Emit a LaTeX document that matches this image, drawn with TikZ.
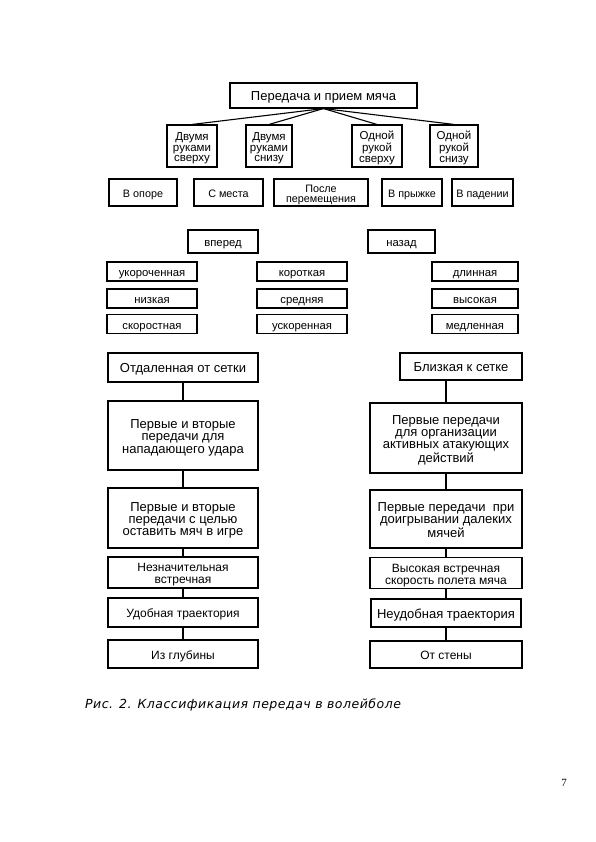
\documentclass[tikz,border=0pt]{standalone}
\usepackage{fontspec}
\setmainfont{Liberation Sans}
\newfontfamily\capfont[LetterSpace=4]{DejaVu Sans}
\newfontfamily\numfont{Liberation Serif}
\newcommand\firstup{\rule{0pt}{\dimexpr0.7\baselineskip+6pt\relax}}
\begin{document}
\begin{tikzpicture}[x=1pt,y=-1pt,
  base/.style={draw=black,line width=1.1pt,inner sep=0.5pt,align=center,
    execute at begin node={\firstup}, execute at end node=\strut},
  hand/.style={base,font=\fontsize{11.5}{10.6}\selectfont},
  place/.style={base,font=\fontsize{10.8}{10}\selectfont},
  small/.style={base,font=\fontsize{11.3}{12}\selectfont},
  box/.style={base,font=\fontsize{12}{12}\selectfont},
  big/.style={base,font=\fontsize{13}{12.2}\selectfont},
  conn/.style={draw=black,line width=1.1pt}]
\useasboundingbox (0,0) rectangle (595,842);
\fill[white] (0,0) rectangle (595,842);
% top
\node[big,minimum width=187pt,minimum height=25pt] (top) at (323.5,95.5) {Передача и прием мяча};
\node[hand,minimum width=50pt,minimum height=42pt] (a1) at (192,146) {\firstup Двумя\\руками\\сверху};
\node[hand,minimum width=46pt,minimum height=42pt] (a2) at (269,146) {\firstup Двумя\\руками\\снизу};
\node[hand,minimum width=50pt,minimum height=42pt] (a3) at (377,146) {\firstup Одной\\рукой\\сверху};
\node[hand,minimum width=48pt,minimum height=42pt] (a4) at (454,146) {\firstup Одной\\рукой\\снизу};
\foreach \n in {a1,a2,a3,a4} \draw[conn] (top.south) -- (\n.north);
% row 3
\node[place,minimum width=68pt,minimum height=27pt] (c1) at (143,192.5) {В опоре};
\node[place,minimum width=69pt,minimum height=27pt] (c2) at (228.5,192.5) {С места};
\node[place,minimum width=94pt,minimum height=27pt] (c3) at (321,192.5) {\firstup После\\перемещения};
\node[place,minimum width=60pt,minimum height=27pt] (c4) at (412,192.5) {В прыжке};
\node[place,minimum width=61pt,minimum height=27pt] (c5) at (482.5,192.5) {В падении};
% row 4
\node[small,minimum width=70pt,minimum height=23pt] (d1) at (223,241.5) {вперед};
\node[small,minimum width=67pt,minimum height=23pt] (d2) at (401.5,241.5) {назад};
% rows 5-7
\node[small,minimum width=90pt,minimum height=17pt] (e1) at (152,271.5) {укороченная};
\node[small,minimum width=90pt,minimum height=17pt] (e2) at (302,271.5) {короткая};
\node[small,minimum width=86pt,minimum height=17pt] (e3) at (475,271.5) {длинная};
\node[small,minimum width=90pt,minimum height=17pt] (f1) at (152,298.5) {низкая};
\node[small,minimum width=90pt,minimum height=17pt] (f2) at (302,298.5) {средняя};
\node[small,minimum width=86pt,minimum height=17pt] (f3) at (475,298.5) {высокая};
\node[small,minimum width=90pt,minimum height=17pt] (g1) at (152,324) {скоростная};
\node[small,minimum width=90pt,minimum height=17pt] (g2) at (302,324) {ускоренная};
\node[small,minimum width=86pt,minimum height=17pt] (g3) at (475,324) {медленная};
% left column
\node[big,minimum width=150pt,minimum height=29pt] (l1) at (183,367.5) {Отдаленная от сетки};
\node[big,minimum width=150pt,minimum height=69pt] (l2) at (183,435.5) {\firstup Первые и вторые\\передачи для\\нападающего удара};
\node[big,minimum width=150pt,minimum height=60pt] (l3) at (183,518) {\firstup Первые и вторые\\передачи с целью\\оставить мяч в игре};
\node[box,minimum width=150pt,minimum height=31pt] (l4) at (183,572.5) {\firstup Незначительная\\встречная};
\node[box,minimum width=150pt,minimum height=29pt] (l5) at (183,612.5) {Удобная траектория};
\node[box,minimum width=150pt,minimum height=28pt] (l6) at (183,654) {Из глубины};
\draw[conn] (l1.south) -- (l2.north);
\draw[conn] (l2.south) -- (l3.north);
\draw[conn] (l3.south) -- (l4.north);
\draw[conn] (l4.south) -- (l5.north);
\draw[conn] (l5.south) -- (l6.north);
% right column
\node[big,minimum width=122pt,minimum height=27pt] (r1) at (461,366.5) {Близкая к сетке};
\node[big,minimum width=152pt,minimum height=70pt] (r2) at (446,438) {\firstup Первые передачи\\для организации\\активных атакующих\\действий};
\node[big,minimum width=152pt,minimum height=58pt] (r3) at (446,519) {\firstup Первые передачи\ \ при\\доигрывании далеких\\мячей};
\node[box,minimum width=152pt,minimum height=30pt] (r4) at (446,573) {\firstup Высокая встречная\\скорость полета мяча};
\node[big,minimum width=150pt,minimum height=28pt] (r5) at (446,613) {Неудобная траектория};
\node[box,minimum width=152pt,minimum height=27pt] (r6) at (446,654.5) {От стены};
\draw[conn] (r2.north) -- (r2.north |- r1.south);
\draw[conn] (r2.south) -- (r3.north);
\draw[conn] (r3.south) -- (r4.north);
\draw[conn] (r4.south) -- (r5.north);
\draw[conn] (r5.south) -- (r6.north);
% caption
\node[anchor=west,inner sep=0pt,font=\capfont\itshape\fontsize{12.5}{14}\selectfont] (cap) at (85,705) {Рис. 2. Классификация передач в волейболе};
\node[anchor=east,inner sep=0pt,font=\numfont\fontsize{11}{13}\selectfont] (pg) at (567,783) {7};
\end{tikzpicture}
\end{document}
